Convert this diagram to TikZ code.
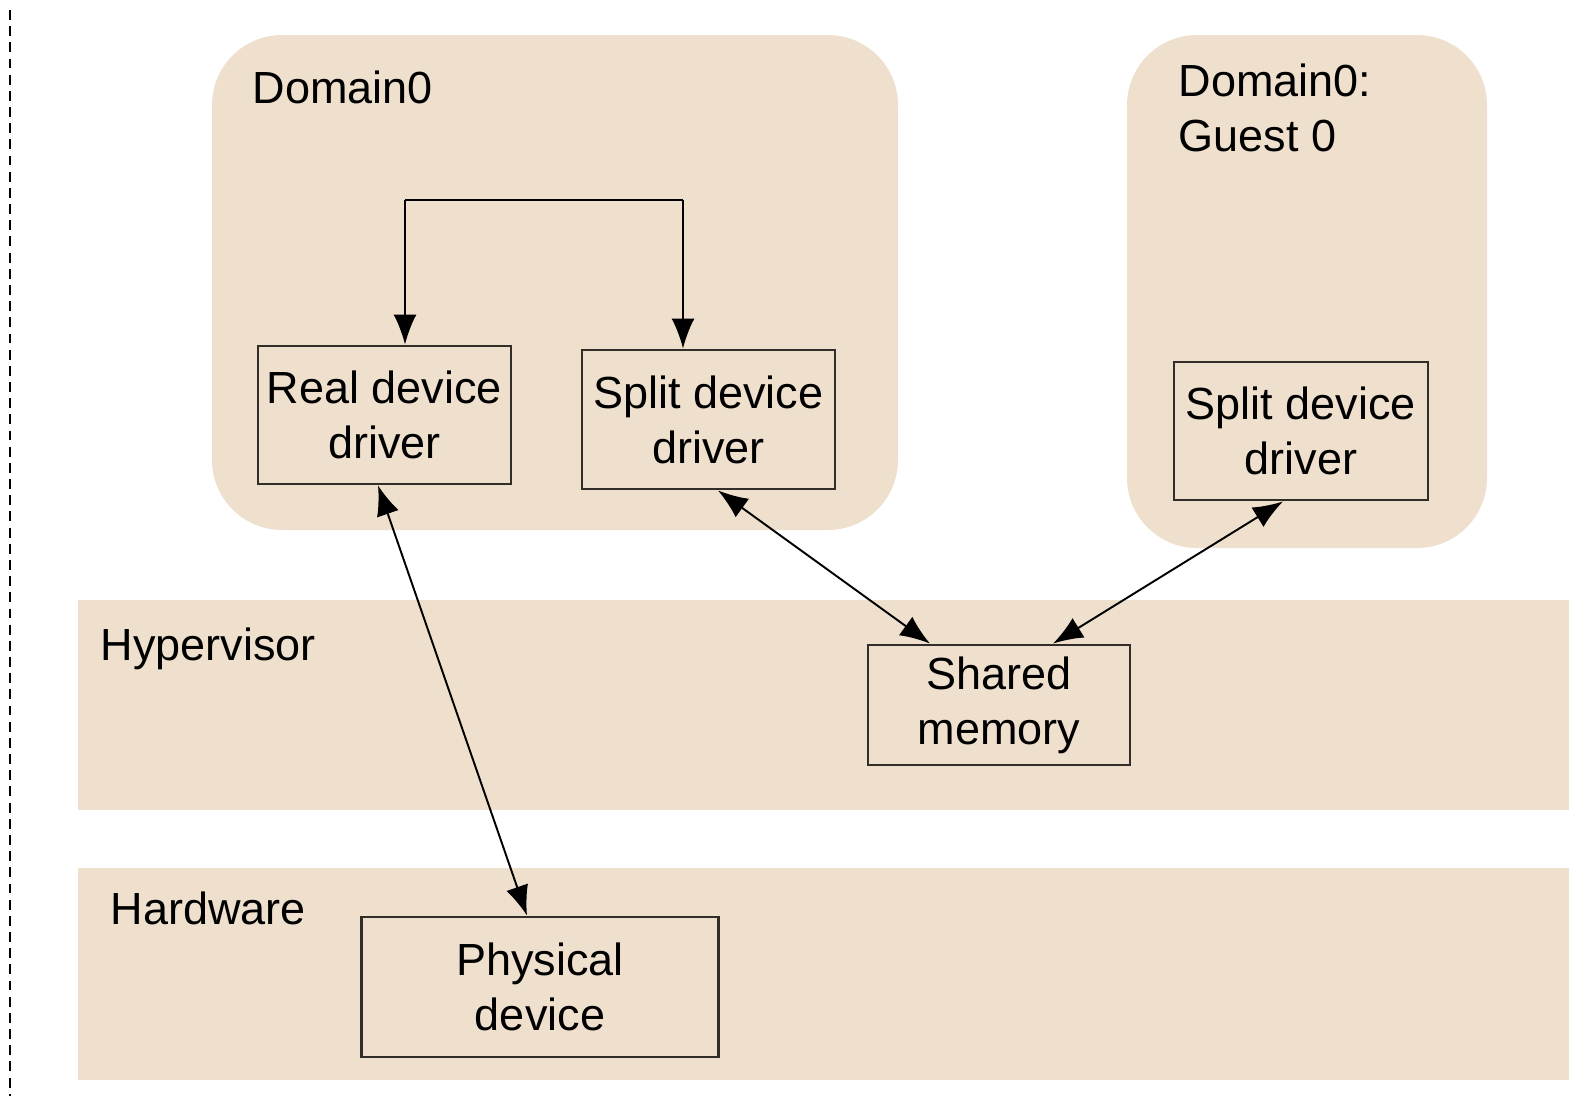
\documentclass[tikz,border=0pt]{standalone}
\usepackage{fontspec}
\setsansfont{Liberation Sans}
\usetikzlibrary{arrows.meta}
\definecolor{layerfill}{RGB}{239,224,206}
\definecolor{boxline}{RGB}{50,45,40}

\begin{document}
\begin{tikzpicture}[x=0.01cm,y=-0.01cm,>={Latex[length=8.5pt,width=6.5pt]},
    font=\sffamily\fontsize{12.8}{15.6}\selectfont,
    drv/.style={draw=boxline,line width=0.8pt,align=center,inner sep=0pt},
    lbl/.style={anchor=base west,inner sep=0pt},
    link/.style={line width=0.55pt}]
    \useasboundingbox (0,0) rectangle (1569,1096);
    \draw [line width=0.7pt,dash pattern=on 2.8pt off 1.8pt] (10,10) -- (10,1096);
    % domains and layers
    \fill [layerfill,rounded corners=0.7cm] (212,35) rectangle (898,530);
    \fill [layerfill,rounded corners=0.7cm] (1127,35) rectangle (1487,548);
    \fill [layerfill] (78,600) rectangle (1569,810);
    \fill [layerfill] (78,868) rectangle (1569,1080);
    \node [lbl] (dom0) at (252,103) {Domain0};
    \node [anchor=north west,inner sep=0pt,align=left] (guest) at (1178,63) {Domain0:\\Guest 0};
    \node [lbl] (hyper) at (100,660) {Hypervisor};
    \node [lbl] (hw) at (110,924) {Hardware};
    % drivers
    \node [drv,minimum width=2.53cm,minimum height=1.38cm] (realdrv) at (384.5,415) {Real device\\driver};
    \node [drv,minimum width=2.53cm,minimum height=1.39cm] (splitdrv) at (708.5,419.5) {Split device\\driver};
    \node [drv,minimum width=2.54cm,minimum height=1.38cm] (guestdrv) at (1301,431) {Split device\\driver};
    \node [drv,minimum width=2.62cm,minimum height=1.20cm] (shmem) at (999,705) {Shared\\memory};
    \node [drv,minimum width=3.56cm,minimum height=1.40cm] (physdev) at (540,987) {Physical\\device};
    % connectors
    \coordinate (forkL) at (405,200);
    \coordinate (forkR) at (683,200);
    \draw [link] (forkL) -- (forkR);
    \draw [link,->] (forkL) -- (forkL |- realdrv.north);
    \draw [link,->] (forkR) -- (forkR |- splitdrv.north);
    \draw [link,<->] ([xshift=-0.065cm]realdrv.south) -- ([xshift=-0.13cm]physdev.north);
    \draw [link,<->] ([xshift=0.095cm]splitdrv.south) -- ([xshift=-0.69cm]shmem.north);
    \draw [link,<->] ([xshift=-0.18cm]guestdrv.south) -- ([xshift=0.54cm]shmem.north);
\end{tikzpicture}
\end{document}
